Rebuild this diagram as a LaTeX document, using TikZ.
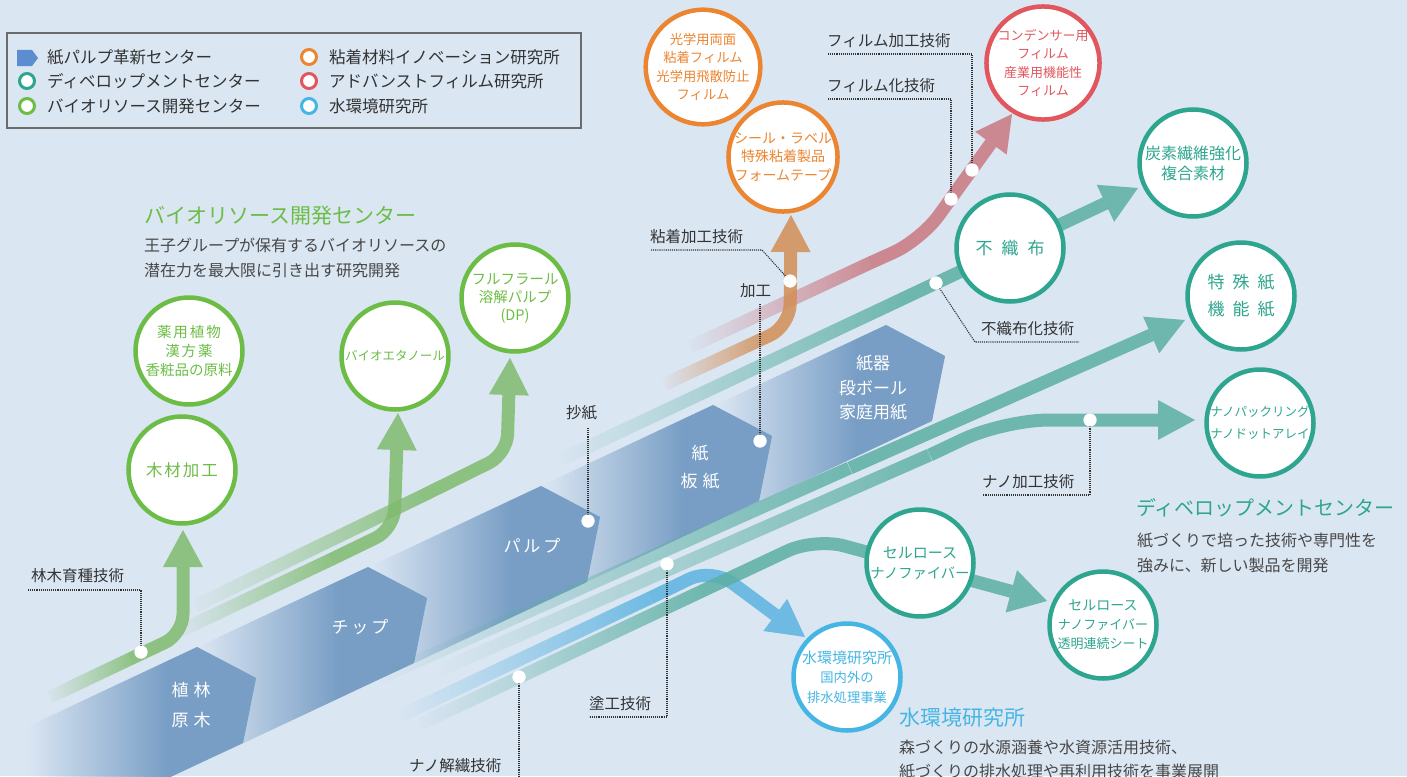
\documentclass[tikz,border=0pt]{standalone}
\usepackage{fontspec}
\setmainfont{Noto Sans CJK JP}
\usetikzlibrary{arrows.meta,fadings}
\definecolor{bgc}{HTML}{DBE6F3}
\definecolor{hexblue}{HTML}{789EC5}
\definecolor{legicon}{HTML}{5B8DD0}
\definecolor{legbd}{HTML}{6B6B6B}
\definecolor{grn}{HTML}{6CBD45}
\definecolor{grnl}{HTML}{7FBB6E}
\definecolor{teal}{HTML}{2EA68F}
\definecolor{teall}{HTML}{5BAFA3}
\definecolor{org}{HTML}{EC8530}
\definecolor{orgl}{HTML}{D28D55}
\definecolor{red}{HTML}{E1575D}
\definecolor{redl}{HTML}{C97880}
\definecolor{blu}{HTML}{45B6E4}
\definecolor{blul}{HTML}{5BB3E0}
\definecolor{txt}{HTML}{333333}
\pgfdeclarehorizontalshading{lfadesh}{100bp}{color(0bp)=(black); color(25bp)=(black); color(75bp)=(white); color(100bp)=(white)}
\pgfdeclarefading{lfade}{\pgfuseshading{lfadesh}}
\pgfdeclarehorizontalshading{hexfadesh}{100bp}{color(0bp)=(black); color(31bp)=(black); color(58bp)=(white); color(100bp)=(white)}
\pgfdeclarefading{hexfade}{\pgfuseshading{hexfadesh}}
\begin{document}
\begin{tikzpicture}[x=1pt,y=-1pt,
  bub/.style={circle, draw=#1, text=#1, line width=4.5pt, fill=white, minimum size=107pt, inner sep=0pt, align=center},
  legc/.style={circle, draw=#1, line width=3pt, fill=white, minimum size=15pt, inner sep=0pt},
  legt/.style={anchor=west, inner sep=0pt, text=txt, font=\fontsize{16.5}{20}\selectfont},
  lab/.style={anchor=west, inner sep=0pt, text=txt, font=\fontsize{15.5}{18}\selectfont},
  body/.style={anchor=west, inner sep=0pt, text=txt!90, font=\fontsize{16}{19}\selectfont},
  hext/.style={inner sep=0pt, text=white, font=\fontsize{17}{20}\selectfont},
  dotn/.style={circle, fill=white, minimum size=13pt, inner sep=0pt},
  dotl/.style={densely dotted, line width=1.1pt, draw=txt},
  ln/.style={line width=13pt, draw=#1, opacity=.85},
  fln/.style={line width=13pt, draw=#1, opacity=.85, path fading=lfade},
  tipA/.style={-{Triangle[width=40pt,length=37pt,line width=0pt]}},
  hex/.style={fill=hexblue, path fading=hexfade}
]
\useasboundingbox (0,0) rectangle (1407,776);
\clip (0,0) rectangle (1407,776);
\fill[bgc] (0,0) rectangle (1407,776);

% ---------- hexagons ----------
\foreach \ax/\ay in {197/647, 368/567, 541/486, 713/405, 886/325}{
  \fill[hex] (\ax,\ay) -- ++(59,31) -- ++(-13,65) -- ++(-200,94) -- ++(-46,-96) -- cycle;
}

% ---------- coordinates ----------
\coordinate (gA0) at (50,697);  \coordinate (gA1) at (130,659); \coordinate (gA2) at (183,634); \coordinate (gAt) at (183,530);
\coordinate (gB0) at (180,631); \coordinate (gB1) at (330,560); \coordinate (gB2) at (394,529); \coordinate (gBt) at (398,413);
\coordinate (gC0) at (195,606); \coordinate (gC1) at (420,497); \coordinate (gC2) at (507,454); \coordinate (gCt) at (510,358);
\coordinate (oA0) at (665,384); \coordinate (oA1) at (760,340); \coordinate (oA2) at (790,326); \coordinate (oAt) at (791,215);
\coordinate (rA0) at (690,347); \coordinate (rA1) at (870,263); \coordinate (rA2) at (921,240); \coordinate (rAt) at (1012,114);
\coordinate (t10) at (560,460); \coordinate (t11) at (900,300); \coordinate (t1t) at (1138,188);
\coordinate (t20) at (380,678); \coordinate (t21) at (850,468); \coordinate (t2t) at (1185,320);
\coordinate (tn0) at (440,670); \coordinate (tn1) at (930,455); \coordinate (tn2) at (1004,420); \coordinate (tnt) at (1195,420);
\coordinate (tc0) at (420,724); \coordinate (tc1) at (700,592); \coordinate (tc2) at (815,538); \coordinate (tct) at (1047,601);
\coordinate (bl0) at (400,716); \coordinate (bl1) at (650,598); \coordinate (bl2) at (712,568); \coordinate (blt) at (805,637);

% ---------- flow lines ----------
\draw[fln=teall] (t20) -- (t21);
\draw[ln=teall, tipA] (t21) -- (t2t);
\draw[fln=teall] (tn0) -- (tn1);
\draw[ln=teall, tipA, rounded corners=45] (tn1) -- (tn2) -- (tnt);
\draw[fln=blul] (bl0) -- (bl1);
\draw[ln=blul, tipA, rounded corners=25] (bl1) -- (bl2) -- (blt);
\draw[fln=teall] (tc0) -- (tc1);
\draw[ln=teall, -{Triangle[width=44pt,length=37pt,line width=0pt]}, rounded corners=30] (tc1) -- (tc2) -- (tct);
\draw[fln=teall] (t10) -- (t11);
\draw[ln=teall, -{Triangle[width=41pt,length=36pt,line width=0pt]}] (t11) -- (t1t);
\draw[fln=redl] (rA0) -- (rA1);
\draw[ln=redl, -{Triangle[width=39pt,length=36pt,line width=0pt]}, rounded corners=30] (rA1) -- (rA2) -- (rAt);
\draw[fln=orgl] (oA0) -- (oA1);
\draw[ln=orgl, tipA, rounded corners=22] (oA1) -- (oA2) -- (oAt);
\draw[fln=grnl] (gC0) -- (gC1);
\draw[ln=grnl, tipA, rounded corners=20] (gC1) -- (gC2) -- (gCt);
\draw[fln=grnl] (gB0) -- (gB1);
\draw[ln=grnl, tipA, rounded corners=20] (gB1) -- (gB2) -- (gBt);
\draw[fln=grnl] (gA0) -- (gA1);
\draw[ln=grnl, tipA, rounded corners=20] (gA1) -- (gA2) -- (gAt);

% ---------- hexagon texts ----------
\node[hext] (h1a) at (191,690) {植\hspace{5pt}林};
\node[hext] (h1b) at (191,720) {原\hspace{5pt}木};
\node[hext] (h2) at (360,627) {チ\hspace{3pt}ッ\hspace{3pt}プ};
\node[hext] (h3) at (532,546) {パ\hspace{3pt}ル\hspace{3pt}プ};
\node[hext] (h4a) at (700,453) {紙};
\node[hext] (h4b) at (700,481) {板\hspace{5pt}紙};
\node[hext] (h5a) at (873,363) {紙器};
\node[hext] (h5b) at (873,388) {段ボール};
\node[hext] (h5c) at (873,412) {家庭用紙};

% ---------- circles ----------
\node[bub=grn, font=\fontsize{14.5}{19}\selectfont] (cYaku) at (189,351) {薬\hspace{2pt}用\hspace{2pt}植\hspace{2pt}物\\ 漢\hspace{2pt}方\hspace{2pt}薬\\ 香粧品の原料};
\node[bub=grn, font=\fontsize{16.5}{20}\selectfont] (cMoku) at (182,470) {木\hspace{2pt}材\hspace{2pt}加\hspace{2pt}工};
\node[bub=grn, font=\fontsize{12.5}{15}\selectfont] (cEtha) at (395,356) {バイオエタノール};
\node[bub=grn, font=\fontsize{14.5}{18}\selectfont] (cFurf) at (515,298) {フルフラール\\ 溶解パルプ\\ (DP)};
\node[bub=org, font=\fontsize{13.3}{18.3}\selectfont] (cKou) at (703,67) {光学用両面\\ 粘着フィルム\\ 光学用飛散防止\\ フィルム};
\node[bub=org, font=\fontsize{14}{18.5}\selectfont] (cSeal) at (783,157) {シール・ラベル\\ 特殊粘着製品\\ フォームテープ};
\node[bub=red, font=\fontsize{13}{18.5}\selectfont] (cCond) at (1043,63) {コンデンサー用\\ フィルム\\ 産業用機能性\\ フィルム};
\node[bub=teal, font=\fontsize{17}{20}\selectfont] (cFush) at (1010,248) {不\hspace{9pt}織\hspace{9pt}布};
\node[bub=teal, font=\fontsize{16}{20}\selectfont] (cTan) at (1193,163) {炭素繊維強化\\ 複合素材};
\node[bub=teal, font=\fontsize{17}{27}\selectfont] (cToku) at (1241,296) {特\hspace{8pt}殊\hspace{8pt}紙\\ 機\hspace{8pt}能\hspace{8pt}紙};
\node[bub=teal, font=\fontsize{12.5}{22}\selectfont] (cNano) at (1260,423) {ナノパックリング\\ ナノドットアレイ};
\node[bub=teal, font=\fontsize{15}{20}\selectfont] (cCNF) at (920,563) {セルロース\\ {\fontsize{14.3}{20}\selectfont ナノファイバー}};
\node[bub=teal, font=\fontsize{13}{19}\selectfont] (cCNF2) at (1103,625) {{\fontsize{14}{19}\selectfont セルロース}\\ ナノファイバー\\ 透明連続シート};
\node[bub=blu, font=\fontsize{13.3}{19.5}\selectfont] (cMizu) at (847,677) {{\fontsize{15}{19.5}\selectfont 水環境研究所}\\ 国内外の\\ 排水処理事業};

% ---------- dots ----------
\node[dotn] (dA) at (141,652) {};
\node[dotn] (dP) at (588,521) {};
\node[dotn] (dK) at (760,441) {};
\node[dotn] (dN) at (790,281) {};
\node[dotn] (dF1) at (972,170) {};
\node[dotn] (dF2) at (951,199) {};
\node[dotn] (dW) at (936,283) {};
\node[dotn] (dNa) at (1090,420) {};
\node[dotn] (dT) at (667,564) {};
\node[dotn] (dK2) at (519,677) {};

% ---------- labels & dotted leaders ----------
\node[lab] (L1) at (31,576) {林木育種技術};
\coordinate (L1a) at (28,590); \coordinate (L1b) at (141,590);
\draw[dotl] (L1a) -- (L1b) -- (dA.center);
\node[lab] (L2) at (566,413) {抄紙};
\coordinate (L2a) at (588,428);
\draw[dotl] (L2a) -- (dP.center);
\node[lab] (L3) at (740,291) {加工};
\coordinate (L3a) at (760,304);
\draw[dotl] (L3a) -- (dK.center);
\node[lab] (L4) at (650,237) {粘着加工技術};
\coordinate (L4a) at (651,250); \coordinate (L4b) at (762,250);
\draw[dotl] (L4a) -- (L4b) -- (dN.center);
\node[lab] (L5) at (827,41) {フィルム加工技術};
\coordinate (L5a) at (828,54); \coordinate (L5b) at (972,54);
\draw[dotl] (L5a) -- (L5b) -- (dF1.center);
\node[lab] (L6) at (827,86) {フィルム化技術};
\coordinate (L6a) at (828,99); \coordinate (L6b) at (951,99);
\draw[dotl] (L6a) -- (L6b) -- (dF2.center);
\node[lab] (L7) at (981,329) {不織布化技術};
\coordinate (L7a) at (975,342); \coordinate (L7b) at (1079,342);
\draw[dotl] (dW.center) -- (L7a) -- (L7b);
\node[lab] (L8) at (982,482) {ナノ加工技術};
\coordinate (L8a) at (1090,495); \coordinate (L8b) at (983,495);
\draw[dotl] (dNa.center) -- (L8a) -- (L8b);
\node[lab] (L9) at (589,704) {塗工技術};
\coordinate (L9a) at (667,717); \coordinate (L9b) at (589,717);
\draw[dotl] (dT.center) -- (L9a) -- (L9b);
\node[lab] (L10) at (409,766) {ナノ解繊技術};
\coordinate (L10a) at (519,780);
\draw[dotl] (dK2.center) -- (L10a);
\node[dotn] at (dA) {}; \node[dotn] at (dP) {}; \node[dotn] at (dK) {}; \node[dotn] at (dN) {};
\node[dotn] at (dF1) {}; \node[dotn] at (dF2) {}; \node[dotn] at (dW) {}; \node[dotn] at (dNa) {};
\node[dotn] at (dT) {}; \node[dotn] at (dK2) {};

% ---------- headings ----------
\node[anchor=west, inner sep=0pt, text=grn, font=\fontsize{21}{25}\selectfont] (hBio) at (144,216) {バイオリソース開発センター};
\node[body] (bBio1) at (144,245) {王子グループが保有するバイオリソースの};
\node[body] (bBio2) at (144,270) {潜在力を最大限に引き出す研究開発};
\node[anchor=west, inner sep=0pt, text=teal, font=\fontsize{20}{24}\selectfont] (hDev) at (1136,508) {ディベロップメントセンター};
\node[body] (bDev1) at (1137,541) {紙づくりで培った技術や専門性を};
\node[body] (bDev2) at (1137,565) {強みに、新しい製品を開発};
\node[anchor=west, inner sep=0pt, text=blu, font=\fontsize{21}{25}\selectfont] (hMiz) at (899,718) {水環境研究所};
\node[body] (bMiz1) at (899,747) {森づくりの水源涵養や水資源活用技術、};
\node[body] (bMiz2) at (899,772) {紙づくりの排水処理や再利用技術を事業展開};

% ---------- legend ----------
\draw[line width=1.2pt, draw=legbd, fill=bgc] (7,33) rectangle (581,128);
\fill[legicon] (17,50) -- (32,50) -- (38,58) -- (32,66) -- (17,66) -- cycle;
\node[legc=teal] (lg2) at (27,81) {};
\node[legc=grn] (lg3) at (27,106) {};
\node[legc=org] (lg4) at (309,57) {};
\node[legc=red] (lg5) at (309,81) {};
\node[legc=blu] (lg6) at (309,106) {};
\node[legt] (lt1) at (47,57) {紙パルプ革新センター};
\node[legt] (lt2) at (47,81) {ディベロップメントセンター};
\node[legt] (lt3) at (47,106) {バイオリソース開発センター};
\node[legt] (lt4) at (329,57) {粘着材料イノベーション研究所};
\node[legt] (lt5) at (329,81) {アドバンストフィルム研究所};
\node[legt] (lt6) at (329,106) {水環境研究所};
\end{tikzpicture}
\end{document}
